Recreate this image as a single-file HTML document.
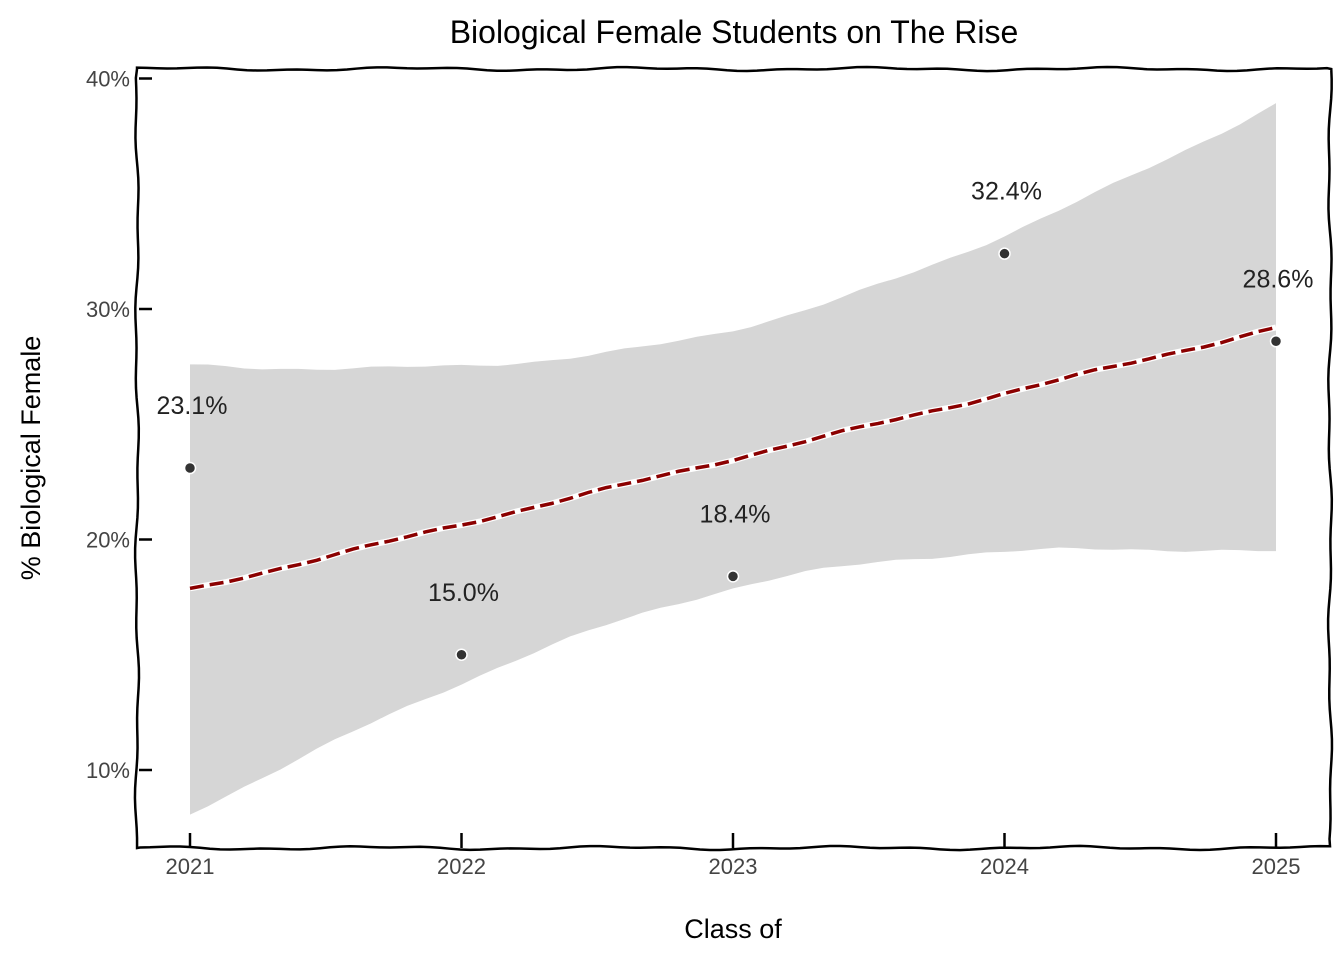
<!DOCTYPE html>
<html><head><meta charset="utf-8"><style>
html,body{margin:0;padding:0;background:#fff;}
svg{display:block;font-family:"Liberation Sans",sans-serif;}
</style></head><body>
<svg id="chart" width="1344" height="960" viewBox="0 0 1344 960" xmlns="http://www.w3.org/2000/svg">
<text x="734" y="43" font-size="32" text-anchor="middle" fill="#000">Biological Female Students on The Rise</text>
<text x="733" y="938" font-size="27" text-anchor="middle" fill="#000">Class of</text>
<text transform="translate(40,458) rotate(-90)" font-size="27" text-anchor="middle" fill="#000">% Biological Female</text>
<g id="plot"></g>
</svg>
<script>
const years = [2021, 2022, 2023, 2024, 2025];
const values = [23.1, 15.0, 18.4, 32.4, 28.6];
const yTicks = [10, 20, 30, 40];
const yTickLabels = ["10%", "20%", "30%", "40%"];

const NS = "http://www.w3.org/2000/svg";
const xs = v => 190 + (v - 2021) * 271.5;
const ys = v => 770 - (v - 10) * 23.05;
const g = document.getElementById('plot');
function mk(tag, attrs) { const e = document.createElementNS(NS, tag); for (const k in attrs) e.setAttribute(k, attrs[k]); return e; }
function wob(x, amp) { return amp * Math.sin(x / 37) + amp * 0.6 * Math.sin(x / 13 + 1); }

// regression + confidence band
const n = years.length;
const mx = years.reduce((a, b) => a + b, 0) / n;
const my = values.reduce((a, b) => a + b, 0) / n;
let sxx = 0, sxy = 0;
years.forEach((x, i) => { sxx += (x - mx) ** 2; sxy += (x - mx) * (values[i] - my); });
const slope = sxy / sxx, icpt = my - slope * mx;
let sse = 0;
years.forEach((x, i) => { sse += (values[i] - (icpt + slope * x)) ** 2; });
const s = Math.sqrt(sse / (n - 2));
const x0 = years[0], x1 = years[n - 1];
const steps = 60;
let up = [], lo = [], ln = [];
for (let k = 0; k <= steps; k++) {
  const x = x0 + (x1 - x0) * k / steps;
  const p = icpt + slope * x;
  const h = 1.96 * s * Math.sqrt(1 / n + (x - mx) ** 2 / sxx);
  const px = xs(x);
  up.push([px, ys(p + h) + wob(px, 1.5)]);
  lo.push([px, ys(p - h) + wob(px + 50, 1.5)]);
  ln.push([px, ys(p) + wob(px + 20, 1.2)]);
}
const band = mk('path', { d: 'M' + up.map(p => p.join(',')).join('L') + 'L' + lo.reverse().map(p => p.join(',')).join('L') + 'Z', fill: '#d6d6d6', stroke: 'none' });


g.appendChild(band);
const line = mk('path', { d: 'M' + ln.map(p => p.join(',')).join('L'), fill: 'none', stroke: '#fff', 'stroke-width': 6 });


g.appendChild(line);
const line2 = mk('path', { d: 'M' + ln.map(p => p.join(',')).join('L'), fill: 'none', stroke: '#8b0000', 'stroke-width': 3.5, 'stroke-dasharray': '14,6' });


g.appendChild(line2);

// points and labels
years.forEach((x, i) => {
  const c = mk('circle', { cx: xs(x), cy: ys(values[i]), r: 5.5, fill: '#333', stroke: '#fff', 'stroke-width': 1.5 });
  
  
  g.appendChild(c);
  const t = mk('text', { x: xs(x) + 2, y: ys(values[i]) - 54, 'font-size': 25, 'text-anchor': 'middle', fill: '#222' });
  t.textContent = values[i].toFixed(1) + '%';
  
  
  g.appendChild(t);
});

// frame
const L = 137, R = 1330, T = 69, B = 848;
let fd = 'M' + L + ',' + T;
for (let x = L; x <= R; x += 10) fd += 'L' + x + ',' + (T + wob(x, 1.3));
for (let y = T; y <= B; y += 10) fd += 'L' + (R + wob(y, 1.3)) + ',' + y;
for (let x = R; x >= L; x -= 10) fd += 'L' + x + ',' + (B + wob(x + 30, 1.3));
for (let y = B; y >= T; y -= 10) fd += 'L' + (L + wob(y + 70, 1.3)) + ',' + y;
const fr = mk('path', { d: fd + 'Z', fill: 'none', stroke: '#000', 'stroke-width': 2.5 });


g.appendChild(fr);

// y ticks
yTicks.forEach((v, i) => {
  const tk = mk('line', { x1: L + 2, x2: 152, y1: ys(v), y2: ys(v), stroke: '#000', 'stroke-width': 2.5 });
  
  
  g.appendChild(tk);
  const t = mk('text', { x: 130, y: ys(v) + 8, 'font-size': 22, 'text-anchor': 'end', fill: '#444' });
  t.textContent = yTickLabels[i];
  
  
  g.appendChild(t);
});
// x ticks
years.forEach(x => {
  const tk = mk('line', { x1: xs(x), x2: xs(x), y1: 833, y2: B, stroke: '#000', 'stroke-width': 2.5 });
  
  
  g.appendChild(tk);
  const t = mk('text', { x: xs(x), y: 874, 'font-size': 22, 'text-anchor': 'middle', fill: '#444' });
  t.textContent = x;
  
  
  g.appendChild(t);
});
</script>
</body></html>
